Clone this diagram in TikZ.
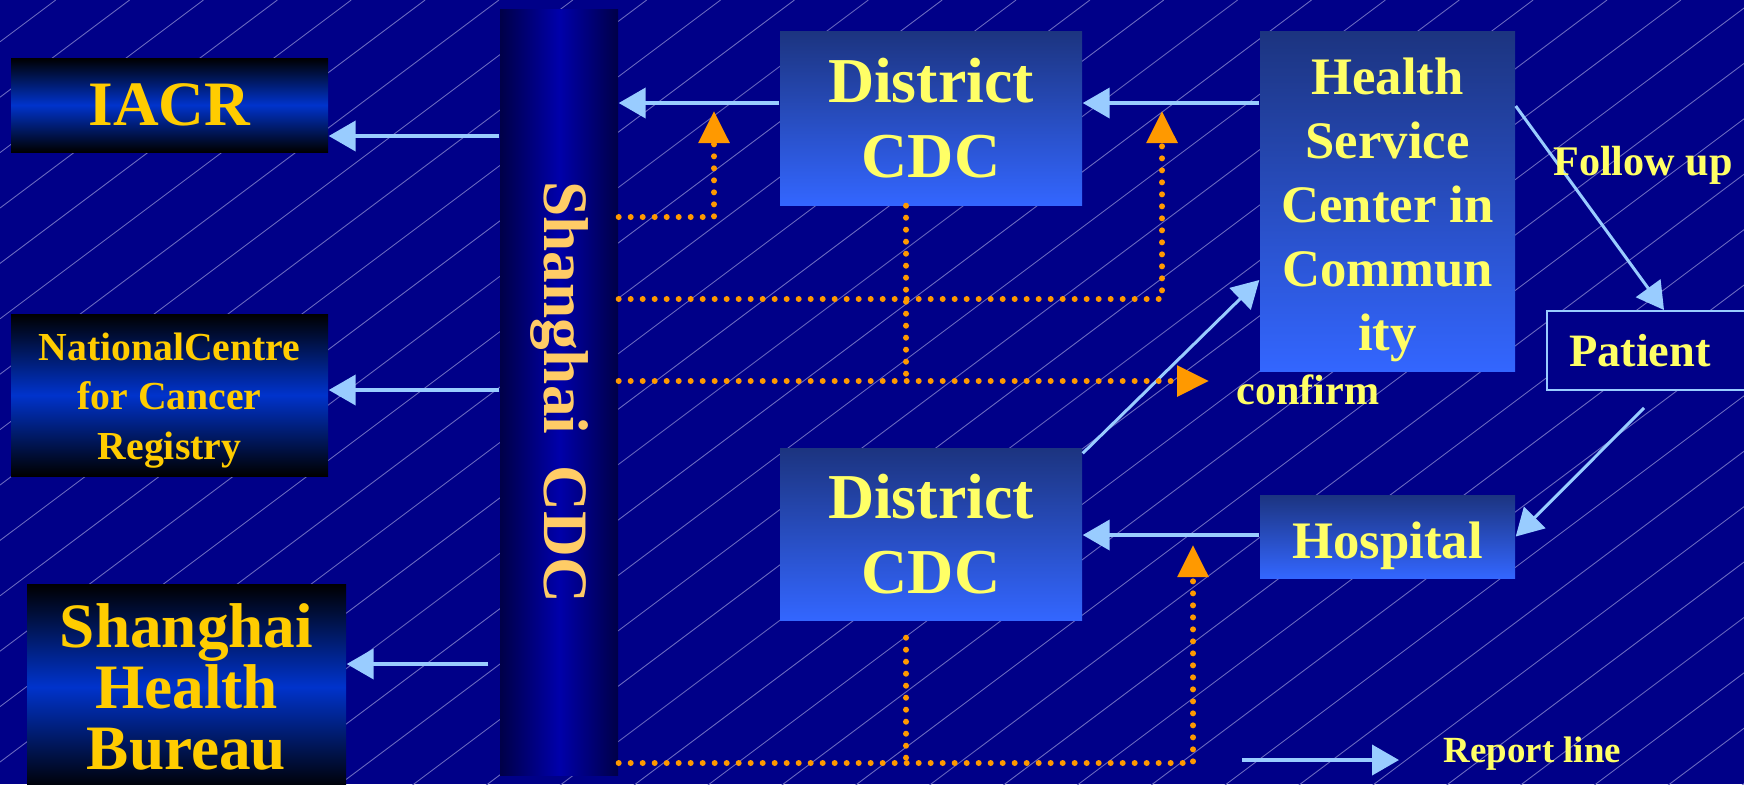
\documentclass[tikz,border=0pt]{standalone}
\usepackage{fontspec}
\setmainfont{Liberation Serif}
\usepackage{tikz}
\usetikzlibrary{arrows.meta}
\definecolor{navy}{HTML}{000088}
\definecolor{hatch}{HTML}{6A6AC0}
\definecolor{lightblue}{HTML}{99CCFF}
\definecolor{dotorange}{HTML}{FF9900}
\definecolor{gold}{HTML}{FFCC00}
\definecolor{paleyellow}{HTML}{FFFF66}
\definecolor{bartext}{HTML}{FFCC66}
\definecolor{boxtop}{HTML}{1C3480}
\definecolor{boxbottom}{HTML}{3366FF}
\definecolor{leftmid}{HTML}{0033CC}
\definecolor{barmid}{HTML}{0000AA}
\definecolor{baredge}{HTML}{000048}

\begin{document}
\begin{tikzpicture}[y=-1cm,
    leftbox/.style={top color=black, bottom color=black, middle color=leftmid, text=gold, align=center, inner sep=0pt},
    distbox/.style={top color=boxtop, bottom color=boxbottom, text=paleyellow, align=center, inner sep=0pt},
    report/.style={draw=lightblue, line width=0.04cm, -{Triangle[length=0.27cm,width=0.3cm]}},
    thinreport/.style={report, line width=0.03cm},
    confirmline/.style={draw=dotorange, line width=0.06cm, line cap=round, dash pattern=on 0pt off 0.12cm},
    confirmarrow/.style={confirmline, -{Triangle[length=0.32cm,width=0.3cm]}}]
        % background with thin diagonal lines
        \fill[navy] (0,0) rectangle (17.44,7.84);
        \useasboundingbox (0,0) rectangle (17.44,7.84);
        \begin{scope}
            \clip (0,0) rectangle (17.44,7.84);
            \foreach \k in {0.418,0.972,...,21.5}
                \draw[hatch, line width=0.25pt] (0,\k) -- (\k/0.75,0);
        \end{scope}

        \node[leftbox, minimum width=3.17cm, minimum height=0.94cm, font={\bfseries\fontsize{18}{21}\selectfont}] (iacr) at (1.695,1.05) {IACR};
        \node[leftbox, minimum width=3.17cm, minimum height=1.62cm, font={\bfseries\fontsize{11.3}{14}\selectfont}] (nccr) at (1.695,3.95) {\rule{0pt}{11pt}NationalCentre\\for Cancer\\Registry};
        \node[leftbox, minimum width=3.19cm, minimum height=2.06cm, font={\bfseries\fontsize{18}{17.4}\selectfont}] (shb) at (1.865,6.87) {Shanghai\\Health\\Bureau};

        \node[left color=baredge, right color=baredge, middle color=barmid, minimum width=1.18cm, minimum height=7.66cm, inner sep=0pt] (bar) at (5.59,3.92) {};
        \node[text=bartext, rotate=-90, font={\bfseries\fontsize{18}{21}\selectfont}] (bartitle) at (bar.center) {Shanghai\ \ CDC};

        \node[distbox, minimum width=3.02cm, minimum height=1.74cm, font={\bfseries\fontsize{18.2}{21.3}\selectfont}] (dcdcA) at (9.31,1.18) {District\\CDC};
        \node[distbox, minimum width=3.02cm, minimum height=1.72cm, font={\bfseries\fontsize{18.2}{21.3}\selectfont}] (dcdcB) at (9.31,5.34) {District\\CDC};
        \node[distbox, minimum width=2.55cm, minimum height=3.4cm, font={\bfseries\fontsize{15}{18.2}\selectfont}] (hsc) at (13.875,2.01) {\rule{0pt}{15.5pt}Health\\Service\\Center in\\Commun\\ity};
        \node[distbox, minimum width=2.55cm, minimum height=0.83cm, font={\bfseries\fontsize{15}{18}\selectfont}] (hospital) at (13.875,5.365) {\rule{0pt}{15.5pt}Hospital};
        \node[draw=lightblue, line width=0.02cm, fill=navy, text=paleyellow, anchor=west, text width=1.9cm, align=left, inner xsep=0.22cm, minimum height=0.79cm, font={\bfseries\fontsize{13.2}{15}\selectfont}] (patient) at (15.46,3.505) {Patient};

        % report lines
        \draw[report] (hsc.west |- 0,1.03) -- (dcdcA.east |- 0,1.03);
        \draw[report] (dcdcA.west |- 0,1.03) -- (bar.east |- 0,1.03);
        \draw[report] (bar.west |- 0,1.36) -- (iacr.east |- 0,1.36);
        \draw[report] (bar.west |- 0,3.9) -- (nccr.east |- 0,3.9);
        \draw[report, shorten <=0.11cm] (bar.west |- 0,6.64) -- (shb.east |- 0,6.64);
        \draw[report] (hospital.west |- 0,5.35) -- (dcdcB.east |- 0,5.35);
        \draw[thinreport] ([yshift=-0.06cm]dcdcB.north east) -- (hsc.west |- 0,2.8);
        \draw[thinreport] (hsc.east |- 0,1.06) -- (patient.north);
        \draw[thinreport] ([xshift=-0.2cm,yshift=-0.17cm]patient.south) -- (hospital.east);

        % confirm lines
        \coordinate (upA) at (7.14,1.11);
        \coordinate (upB) at (11.62,1.11);
        \coordinate (upC) at (11.93,5.45);
        \coordinate (confirmtip) at (12.09,3.81);
        \coordinate (joinA) at (9.06,3.81);
        \coordinate (joinB) at (9.06,7.63);
        \draw[confirmarrow] (bar.east |- 0,2.17) -| (upA);
        \draw[confirmarrow] (bar.east |- 0,2.99) -| (upB);
        \draw[confirmarrow] (bar.east |- confirmtip) -- (confirmtip);
        \draw[confirmline] ([xshift=-0.25cm]dcdcA.south) -- (joinA);
        \draw[confirmline] ([xshift=-0.25cm,yshift=-0.17cm]dcdcB.south) -- (joinB);
        \draw[confirmarrow] (bar.east |- joinB) -| (upC);

        \node[text=paleyellow, font={\bfseries\fontsize{12}{14}\selectfont}] (followup) at (16.43,1.65) {Follow up};
        \node[text=paleyellow, font={\bfseries\fontsize{12}{14}\selectfont}] (confirm) at (13.08,3.9) {confirm};

        % legend
        \coordinate (legendtail) at (12.42,7.6);
        \coordinate (legendtip) at (13.99,7.6);
        \draw[report] (legendtail) -- (legendtip);
        \node[text=paleyellow, anchor=west, inner sep=0pt, font={\bfseries\fontsize{10.5}{12}\selectfont}] (legend) at (14.43,7.54) {Report line};
\end{tikzpicture}
\end{document}
